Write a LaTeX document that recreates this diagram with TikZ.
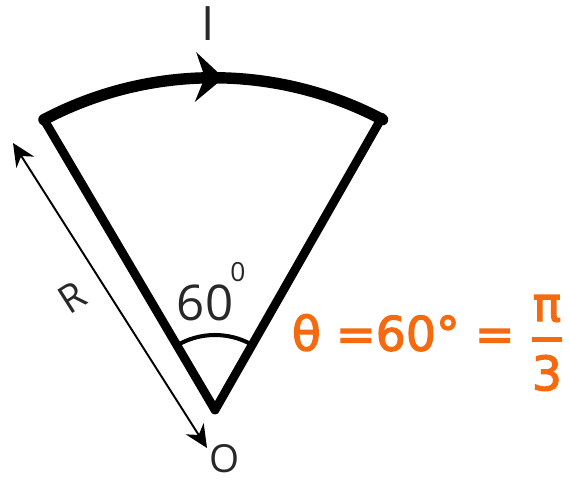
\documentclass[tikz,border=0pt]{standalone}
\usepackage{amsmath}
\usepackage{fontspec}
\setmainfont{Open Sans}
\newfontfamily\handfont[FakeBold=2.5]{DejaVu Sans}
\usetikzlibrary{arrows.meta, calc, decorations.markings}
\definecolor{penorange}{RGB}{245,105,15}
\definecolor{inkgrey}{RGB}{40,40,40}

\begin{document}
\begin{tikzpicture}[x=0.02cm, y=0.02cm,
  side/.style={line width=5pt, line cap=round, line join=round},
  wire/.style={line width=6.5pt, line cap=round},
  dimline/.style={line width=1.1pt, {Stealth[length=13pt,width=12pt]}-{Stealth[length=13pt,width=12pt]}},
  lbl/.style={inner sep=0pt, text=inkgrey, font=\fontsize{22}{24}\selectfont},
  handtext/.style={text=penorange, inner sep=0pt, font=\handfont\fontsize{27}{28}\selectfont}]
  \useasboundingbox (0,0) rectangle (570,483);
  \coordinate (o) at (215,73);
  \coordinate (a) at ($(o)+(120.5:337)$);
  \coordinate (b) at ($(o)+(60.3:337)$);
  % sector sides and current arc
  \draw[side] (a) -- (o) -- (b);
  \draw[wire, postaction={decorate}, decoration={markings,
    mark=at position 0.53 with {\arrow{Stealth[length=16pt,width=28pt]}}}]
    (a) arc (117.8:62.2:363);
  % angle
  \draw[line width=2.3pt] ($(o)+(120.5:75)$) arc (120.5:60.3:75);
  % radius
  \coordinate (rtop) at (13,340);
  \coordinate (rbot) at (207,35);
  \draw[dimline] (rtop) -- (rbot);
  \node[lbl, font=\fontsize{27}{28}\selectfont] (ilabel) at (208,459) {I};
  \node[lbl] (olabel) at (225,24) {O};
  \node[lbl, rotate=32.5] (rlabel) at (72,186) {R};
  \node[lbl, font=\fontsize{28}{28}\selectfont] (anglabel) at (205,180) {60};
  \node[lbl, font=\fontsize{15}{16}\selectfont] (deglabel) at (238,211) {0};
  \node[handtext] (result) at (428,140) {θ =60° = $\genfrac{}{}{2.5pt}{0}{\hbox{\handfont π}}{\hbox{\handfont 3}}$};
\end{tikzpicture}
\end{document}
